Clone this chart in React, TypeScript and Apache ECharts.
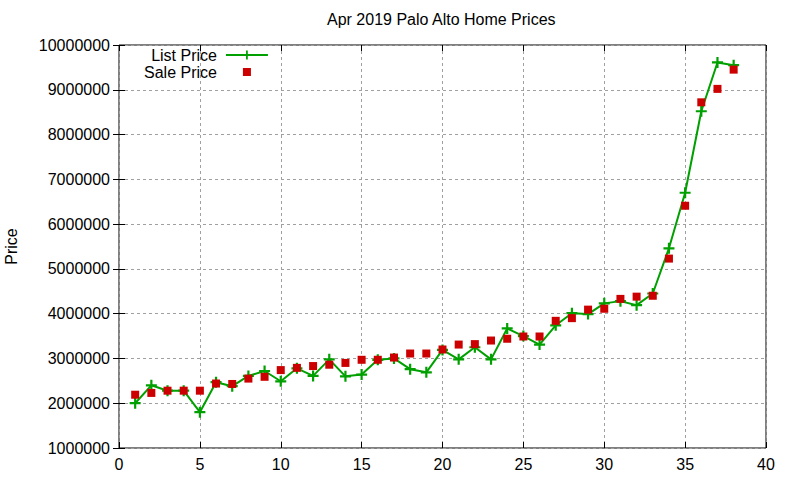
import { useEffect, useRef } from 'react'
import * as echarts from 'echarts'

// listing index (x) and prices
const listings = [
  1, 2, 3, 4, 5, 6, 7, 8, 9, 10, 11, 12, 13, 14, 15, 16, 17, 18, 19,
  20, 21, 22, 23, 24, 25, 26, 27, 28, 29, 30, 31, 32, 33, 34, 35, 36, 37, 38,
]
const listPrice = [
  2000000, 2400000, 2280000, 2280000, 1800000, 2470000, 2380000, 2610000,
  2720000, 2490000, 2780000, 2610000, 2980000, 2600000, 2640000, 2970000,
  3000000, 2760000, 2690000, 3190000, 2980000, 3250000, 2980000, 3670000,
  3500000, 3310000, 3740000, 4010000, 3990000, 4230000, 4280000, 4190000,
  4450000, 5460000, 6700000, 8520000, 9610000, 9550000,
]
const salePrice = [
  2190000, 2230000, 2280000, 2280000, 2280000, 2440000, 2430000, 2550000,
  2590000, 2740000, 2790000, 2830000, 2860000, 2900000, 2970000, 2970000,
  3020000, 3110000, 3110000, 3200000, 3310000, 3320000, 3400000, 3440000,
  3490000, 3490000, 3840000, 3900000, 4090000, 4110000, 4330000, 4380000,
  4400000, 5230000, 6410000, 8720000, 9020000, 9450000,
]

const GREEN = '#00a000'
const RED = '#cc0000'
const FONT = 'Liberation Sans, Arial, sans-serif'

const plusSymbol = 'path://M4,0h2v4h4v2h-4v4h-2v-4h-4v-2h4z'
const squareIcon =
  'image://data:image/svg+xml;charset=utf-8,' +
  encodeURIComponent(
    `<svg xmlns="http://www.w3.org/2000/svg" width="11" height="11" viewBox="0 0 11 11"><rect x="1.5" y="1.5" width="8" height="8" fill="${RED}"/></svg>`
  )

export default function App() {
  const chartRef = useRef<HTMLDivElement>(null)

  useEffect(() => {
    if (!chartRef.current) return
    document.body.style.margin = '0'

    const chart = echarts.init(chartRef.current, null, { renderer: 'svg' })

    const gridLine = {
      show: true,
      lineStyle: { color: '#a0a0a0', type: [3, 3] as number[], width: 1 },
    }
    const tick = { show: true, inside: true, length: 6, lineStyle: { color: '#000' } }

    const option = {
      animation: false,
      textStyle: { fontFamily: FONT },
      title: {
        text: 'Apr 2019 Palo Alto Home Prices',
        left: 327,
        top: 11,
        padding: 0,
        textStyle: { fontFamily: FONT, fontSize: 16, fontWeight: 'normal', color: '#000' },
      },
      legend: {
        orient: 'vertical',
        align: 'right',
        left: 139,
        top: 42,
        itemWidth: 42,
        itemHeight: 11,
        itemGap: 1,
        symbolKeepAspect: true,
        textStyle: { fontFamily: FONT, fontSize: 16, color: '#000', padding: [0, 4, 0, 0] },
        data: [
          { name: 'List Price' },
          { name: 'Sale Price', icon: squareIcon, symbolKeepAspect: true },
        ],
      },
      grid: {
        left: 119,
        right: 34,
        top: 45,
        bottom: 32,
        show: true,
        borderColor: '#000',
        borderWidth: 1,
        backgroundColor: 'transparent',
        outerBoundsMode: 'none',
        containLabel: false,
      },
      xAxis: [
        {
          type: 'value',
          min: 0,
          max: 40,
          interval: 5,
          axisLine: { show: false },
          axisTick: tick,
          splitLine: gridLine,
          axisLabel: { color: '#000', fontSize: 16, fontFamily: FONT, margin: 8 },
        },
        {
          type: 'value',
          position: 'top',
          min: 0,
          max: 40,
          interval: 5,
          axisLine: { show: false },
          axisTick: tick,
          splitLine: { show: false },
          axisLabel: { show: false },
        },
      ],
      yAxis: [
        {
          type: 'value',
          min: 1000000,
          max: 10000000,
          interval: 1000000,
          name: 'Price',
          nameLocation: 'middle',
          nameGap: 100,
          nameTextStyle: { color: '#000', fontSize: 16, fontFamily: FONT },
          axisLine: { show: false },
          axisTick: tick,
          splitLine: gridLine,
          axisLabel: {
            color: '#000',
            fontSize: 16,
            fontFamily: FONT,
            margin: 9,
            formatter: (v: number) => String(v),
          },
        },
        {
          type: 'value',
          position: 'right',
          min: 1000000,
          max: 10000000,
          interval: 1000000,
          axisLine: { show: false },
          axisTick: tick,
          splitLine: { show: false },
          axisLabel: { show: false },
        },
      ],
      series: [
        {
          name: 'List Price',
          type: 'line',
          data: listings.map((x, i) => [x, listPrice[i]]),
          symbol: plusSymbol,
          symbolSize: 11,
          showAllSymbol: true,
          itemStyle: { color: GREEN },
          lineStyle: { color: GREEN, width: 2 },
        },
        {
          name: 'Sale Price',
          type: 'scatter',
          data: listings.map((x, i) => [x, salePrice[i]]),
          symbol: 'rect',
          symbolSize: 8,
          itemStyle: { color: RED, opacity: 1 },
          z: 3,
        },
      ],
    }

    chart.setOption(option)

    return () => {
      chart.dispose()
    }
  }, [])

  return <div ref={chartRef} style={{ width: 800, height: 480 }} />
}
